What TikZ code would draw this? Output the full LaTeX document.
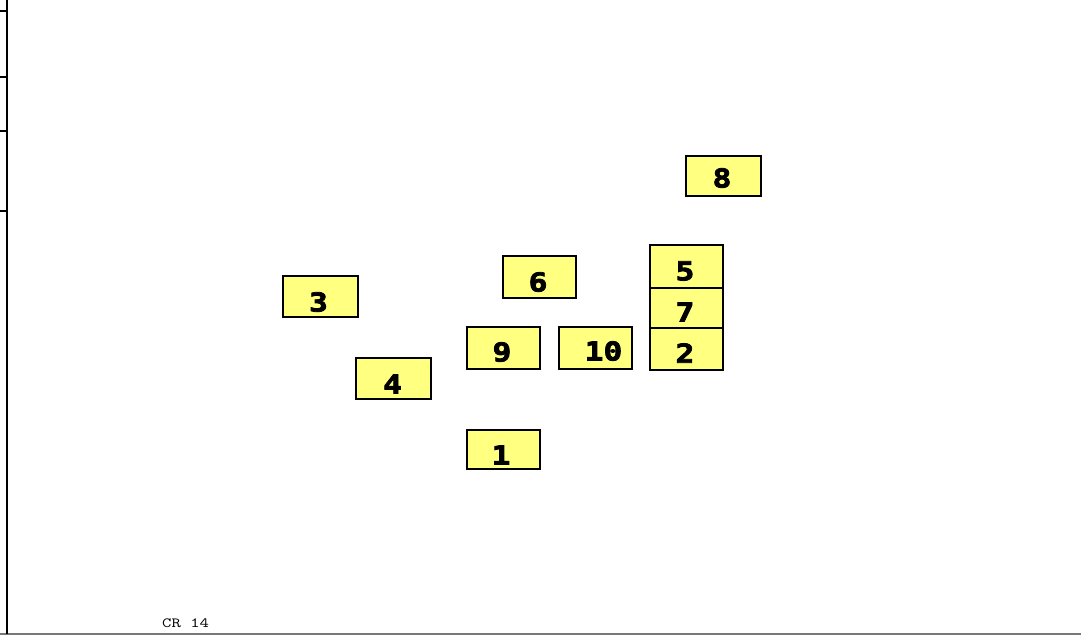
\documentclass[tikz,border=0pt]{standalone}
\usepackage{fontspec}
\newfontfamily\digfont[FakeStretch=1.2,FakeBold=3]{DejaVu Sans Mono Bold}
\newfontfamily\crfont[FakeStretch=1.3]{Latin Modern Mono}
\definecolor{boxyellow}{RGB}{255,255,128}
\definecolor{axisgray}{RGB}{120,120,120}
\tikzset{
  box/.style={draw=black, line width=2pt, fill=boxyellow, minimum width=73pt, minimum height=40pt, inner sep=0pt, anchor=center},
  lbl/.style={font=\digfont\fontsize{26}{26}\selectfont, inner sep=0pt, anchor=center},
  axis/.style={line width=2pt, black},
}
\begin{document}
\begin{tikzpicture}[x=1pt,y=-1pt]
\useasboundingbox (0,0) rectangle (1081,637);
% axes
\coordinate (ltop) at (7,0);
\coordinate (lbot) at (7,634);
\coordinate (bl) at (0,634);
\coordinate (br) at (1081,634);
\draw[line width=1.8pt, axisgray] (bl) -- (br);
\draw[axis] (ltop) -- (lbot);
\foreach \yy/\nm in {11/ta,77/tb,131/tc,211/td}{
  \coordinate (\nm0) at (0,\yy);
  \coordinate (\nm1) at (7,\yy);
  \draw[axis] (\nm0) -- (\nm1);
}
% boxes
\node[box, minimum width=75pt, minimum height=40pt] (b8) at (723.5,176) {};
\node[box, minimum height=43pt] (b5) at (686.5,266) {};
\node[box] (b7) at (686.5,308) {};
\node[box, minimum height=42pt] (b2) at (686.5,348.5) {};
\node[box, minimum height=42pt] (b6) at (539.5,277) {};
\node[box, minimum width=75pt, minimum height=41pt] (b3) at (320,296.5) {};
\node[box, minimum height=42pt] (b9) at (503,348) {};
\node[box, minimum height=42pt] (b10) at (595,348) {};
\node[box, minimum width=75pt, minimum height=41pt] (b4) at (393.5,378.5) {};
\node[box, minimum height=39pt] (b1) at (503,449) {};
% labels
\node[lbl] (t8) at (722,178) {8};
\node[lbl] (t5) at (685,271) {5};
\node[lbl] (t7) at (685,312) {7};
\node[lbl] (t2) at (685,353) {2};
\node[lbl] (t6) at (538,282) {6};
\node[lbl] (t3) at (318.5,302) {3};
\node[lbl] (t9) at (502,352) {9};
\node[lbl] (t10) at (603.5,351) {10};
\node[lbl] (t4) at (392.5,384) {4};
\node[lbl] (t1) at (501,455) {1};
% footer text
\node[font=\crfont\fontsize{14}{14}\selectfont, inner sep=0pt, anchor=base west] (cr) at (162,627) {CR 14};
\end{tikzpicture}
\end{document}
